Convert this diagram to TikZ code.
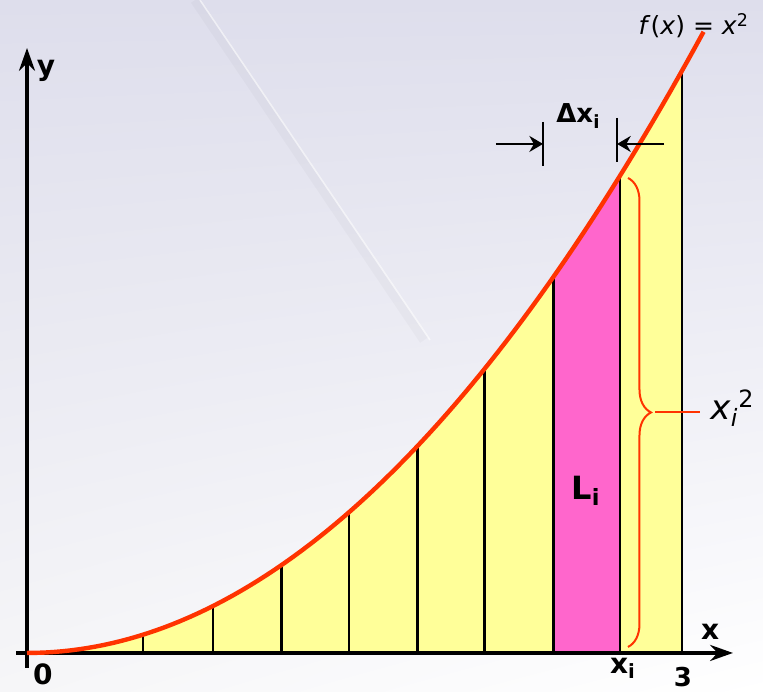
\documentclass[tikz,border=0pt]{standalone}
\usepackage{fontspec}
\setmainfont{DejaVu Sans}
\usetikzlibrary{arrows.meta,decorations.pathreplacing,positioning,shadings}

\definecolor{areayellow}{RGB}{255,255,153}
\definecolor{stripink}{RGB}{255,102,204}
\definecolor{curvered}{RGB}{255,51,0}
\definecolor{bgtop}{RGB}{222,222,236}
\definecolor{bgbot}{RGB}{246,246,248}

\begin{document}
\begin{tikzpicture}[x=109.15pt,y=32.335pt]
\tikzset{
  axis/.style={line width=2pt,-{Stealth[length=4mm,width=2.8mm]}},
  ordinate/.style={line width=1.4pt},
  graph/.style={line width=2.2pt,curvered},
  bound/.style={line width=1.2pt},
  marker/.style={line width=1.3pt,-{Stealth[length=2.4mm,width=2.8mm]}},
  axislabel/.style={inner sep=0pt,font=\bfseries\fontsize{14}{14}\selectfont},
  bracelabel/.style={inner sep=0pt,font=\fontsize{17}{17}\selectfont},
  funclabel/.style={inner sep=0pt,font=\fontsize{12.5}{12.5}\selectfont}
}
% background
\useasboundingbox (-0.1237,-0.603) rectangle (3.3715,10.097);
\shade[upper left=bgtop,upper right=bgtop,lower left=bgbot,lower right=white]
  (-0.1237,-0.603) rectangle (3.3715,10.097);
\draw[black,line width=5pt,opacity=0.025] (0.77,10.097) -- (1.82,4.84);
\draw[white,line width=0.8pt,opacity=0.6] (0.7925,10.097) -- (1.846,4.84);

% area under the curve
\fill[areayellow] (0,0) -- plot[domain=0:3,samples=60] (\x,{\x*\x}) -- (3,0) -- cycle;
\fill[stripink] (2.41,0) -- plot[domain=2.41:2.716,samples=10] (\x,{\x*\x}) -- (2.716,0) -- cycle;
\foreach \xv in {0.531,0.852,1.164,1.475,1.787,2.094,2.41,2.716,3}
  \draw[ordinate] (\xv,0) -- (\xv,{\xv*\xv});

% axes
\coordinate (ax_xs) at (-0.05,0);
\coordinate (ax_xe) at (3.234,0);
\coordinate (ax_ys) at (0,-0.232);
\coordinate (ax_ye) at (0,9.355);
\draw[axis] (ax_xs) -- (ax_xe);
\draw[axis] (ax_ys) -- (ax_ye);
\draw[graph] plot[domain=0:3.10,samples=80] (\x,{\x*\x});

% delta x_i
\coordinate (dx_lt) at (2.364,8.211);
\coordinate (dx_lb) at (2.364,7.531);
\coordinate (dx_lf) at (2.148,7.871);
\coordinate (dx_lh) at (2.364,7.871);
\coordinate (dx_rt) at (2.703,8.273);
\coordinate (dx_rb) at (2.703,7.592);
\coordinate (dx_rf) at (2.918,7.871);
\coordinate (dx_rh) at (2.703,7.871);
\draw[bound] (dx_lt) -- (dx_lb);
\draw[bound] (dx_rt) -- (dx_rb);
\draw[marker] (dx_lf) -- (dx_lh);
\draw[marker] (dx_rf) -- (dx_rh);

% brace for x_i^2
\coordinate (br_top) at (2.753,7.345);
\coordinate (br_bot) at (2.753,0.093);
\coordinate (br_tip) at (2.877,3.727);
\coordinate (br_end) at (3.083,3.727);
\draw[curvered,line width=1pt,decorate,decoration={brace,amplitude=11.5pt}] (br_top) -- (br_bot);
\draw[curvered,line width=1.2pt] (br_tip) -- (br_end);

% labels
\node[axislabel,anchor=base] (lbl_y) at (0.087,8.922) {y};
\node[axislabel,anchor=base] (lbl_x) at (3.129,0.201) {x};
\node[axislabel,anchor=north] (lbl_zero) at (0.073,-0.155) {0};
\node[axislabel,anchor=north,font=\bfseries\fontsize{13}{13}\selectfont] (lbl_three) at (3.005,-0.215) {3};
\node[axislabel,anchor=north] (lbl_xi) at (2.73,-0.08) {x\textsubscript{i}};
\node[axislabel,anchor=base,font=\bfseries\fontsize{16}{16}\selectfont] (lbl_li) at (2.561,2.366) {L\textsubscript{i}};
\node[axislabel,anchor=base,font=\bfseries\fontsize{13}{13}\selectfont] (lbl_dx) at (2.526,8.195) {Δx\textsubscript{i}};
\node[funclabel,anchor=base] (lbl_f) at (3.055,9.556) {\textit{f}(\textit{x}) = \textit{x}\textsuperscript{2}};
\node[bracelabel,anchor=base west] (lbl_xisq) at (3.129,3.603) {\textit{x}\textsubscript{\textit{i}}\textsuperscript{2}};
\end{tikzpicture}
\end{document}
